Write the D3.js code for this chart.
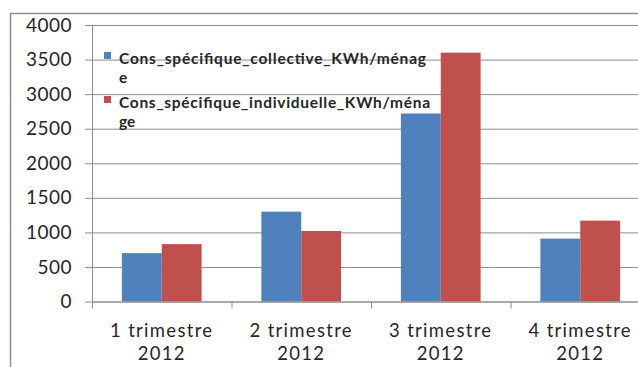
<!DOCTYPE html>
<html>
<head>
<meta charset="utf-8">
<script src="https://cdn.jsdelivr.net/npm/d3@7"></script>
<style>
  body { margin: 0; background: #fff; }
  svg { display: block; }
</style>
</head>
<body>
<div id="chart"></div>
<script>
// data
const quarters = ["1 trimestre", "2 trimestre", "3 trimestre", "4 trimestre"];
const years = ["2012", "2012", "2012", "2012"];
const seriesNames = ["Cons_spécifique_collective_KWh/ménage", "Cons_spécifique_individuelle_KWh/ménage"];
const collective = [700, 1300, 2720, 910];
const individuelle = [830, 1020, 3600, 1170];
const yTicks = [0, 500, 1000, 1500, 2000, 2500, 3000, 3500, 4000];

const width = 638, height = 367;
const margins = {top: 25, right: -12, bottom: 65.5, left: 92};
const colors = ["#4F81BD", "#C0504D"];

const svg = d3.select("#chart")
    .append("svg")
    .attr("width", width)
    .attr("height", height);

// outer chart frame (only left and top are visible in the picture)
svg.append("rect")
    .attr("x", 10.5).attr("y", 13.5)
    .attr("width", 700).attr("height", 400)
    .attr("fill", "none")
    .attr("stroke", "#8c8c8c")
    .attr("stroke-width", 1.5);

const xScale = d3.scaleBand()
    .domain(quarters)
    .range([margins.left, width - margins.right])
    .padding(0);

// Excel style gap width 150%
const bw = xScale.bandwidth() / 3.5;
const xInner = d3.scaleBand()
    .domain([0, 1])
    .range([bw * 0.75, bw * 2.75]);

const yScale = d3.scaleLinear()
    .domain([0, 4000])
    .range([height - margins.bottom, margins.top]);

/* gridlines + y axis */
const yAxis = d3.axisLeft(yScale)
    .tickValues(yTicks)
    .tickSize(-(width - margins.left + 10))
    .tickSizeOuter(0)
    .tickFormat(d3.format("d"));

const yGroup = svg.append("g")
    .attr("transform", `translate(${margins.left},0)`)
    .call(yAxis);

yGroup.select(".domain").attr("stroke", "#8c8c8c");
yGroup.selectAll(".tick line")
    .attr("stroke", "#8c8c8c")
    .attr("x1", -7);
yGroup.selectAll(".tick text")
    .attr("x", -20)
    .style("font-family", "Lato, 'Open Sans', sans-serif")
    .style("font-size", "19px")
    .style("letter-spacing", "0.5px")
    .attr("fill", "#262626");

/* bars */
const rows = quarters.map((q, i) => ({q: q, vals: [collective[i], individuelle[i]]}));

svg.append("g")
    .selectAll("g")
    .data(rows)
    .join("g")
    .attr("transform", d => `translate(${xScale(d.q)},0)`)
    .selectAll("rect")
    .data(d => d.vals.map((v, k) => ({k: k, v: v})))
    .join("rect")
    .attr("x", d => xInner(d.k))
    .attr("y", d => yScale(d.v))
    .attr("width", xInner.bandwidth())
    .attr("height", d => yScale(0) - yScale(d.v))
    .attr("fill", d => colors[d.k]);

/* x axis */
const xAxis = d3.axisBottom(xScale).tickSize(0).tickFormat("");
const xGroup = svg.append("g")
    .attr("transform", `translate(0,${yScale(0)})`)
    .call(xAxis);
xGroup.select(".domain").attr("stroke", "#8c8c8c");

// category boundary ticks
svg.append("g")
    .selectAll("line")
    .data(quarters)
    .join("line")
    .attr("x1", d => xScale(d) + 0.5)
    .attr("x2", d => xScale(d) + 0.5)
    .attr("y1", yScale(0))
    .attr("y2", yScale(0) + 7)
    .attr("stroke", "#8c8c8c");

const labels = svg.append("g")
    .selectAll("text")
    .data(quarters)
    .join("text")
    .attr("text-anchor", "middle")
    .style("font-family", "Lato, 'Open Sans', sans-serif")
    .style("font-size", "18.5px")
    .style("letter-spacing", "1.3px")
    .attr("fill", "#262626");
labels.append("tspan")
    .attr("x", d => xScale(d) + xScale.bandwidth() / 2)
    .attr("y", 337)
    .text(d => d);
labels.append("tspan")
    .attr("x", d => xScale(d) + xScale.bandwidth() / 2)
    .attr("y", 360)
    .text((d, i) => years[i]);

/* legend, wrapped the way the picture wraps it */
const legendLines = [
    ["Cons_spécifique_collective_KWh/ménag", "e"],
    ["Cons_spécifique_individuelle_KWh/ména", "ge"]
];
const legendWidths = [307, 311];
const legend = svg.append("g")
    .selectAll("g")
    .data(seriesNames)
    .join("g")
    .attr("transform", (d, i) => `translate(104,${52 + i * 44})`);

legend.append("rect")
    .attr("width", 7)
    .attr("height", 7)
    .attr("fill", (d, i) => colors[i]);

const legendText = legend.append("text")
    .style("font-family", "Lato, 'Open Sans', sans-serif")
    .style("font-size", "15.5px")
    .style("font-weight", "bold")
    .attr("fill", "#262626");
legendText.append("tspan")
    .attr("x", 15)
    .attr("y", 12)
    .attr("textLength", (d, i) => legendWidths[i])
    .attr("lengthAdjust", "spacing")
    .text((d, i) => legendLines[i][0]);
legendText.append("tspan")
    .attr("x", 15)
    .attr("y", 31)
    .text((d, i) => legendLines[i][1]);
</script>
</body>
</html>
